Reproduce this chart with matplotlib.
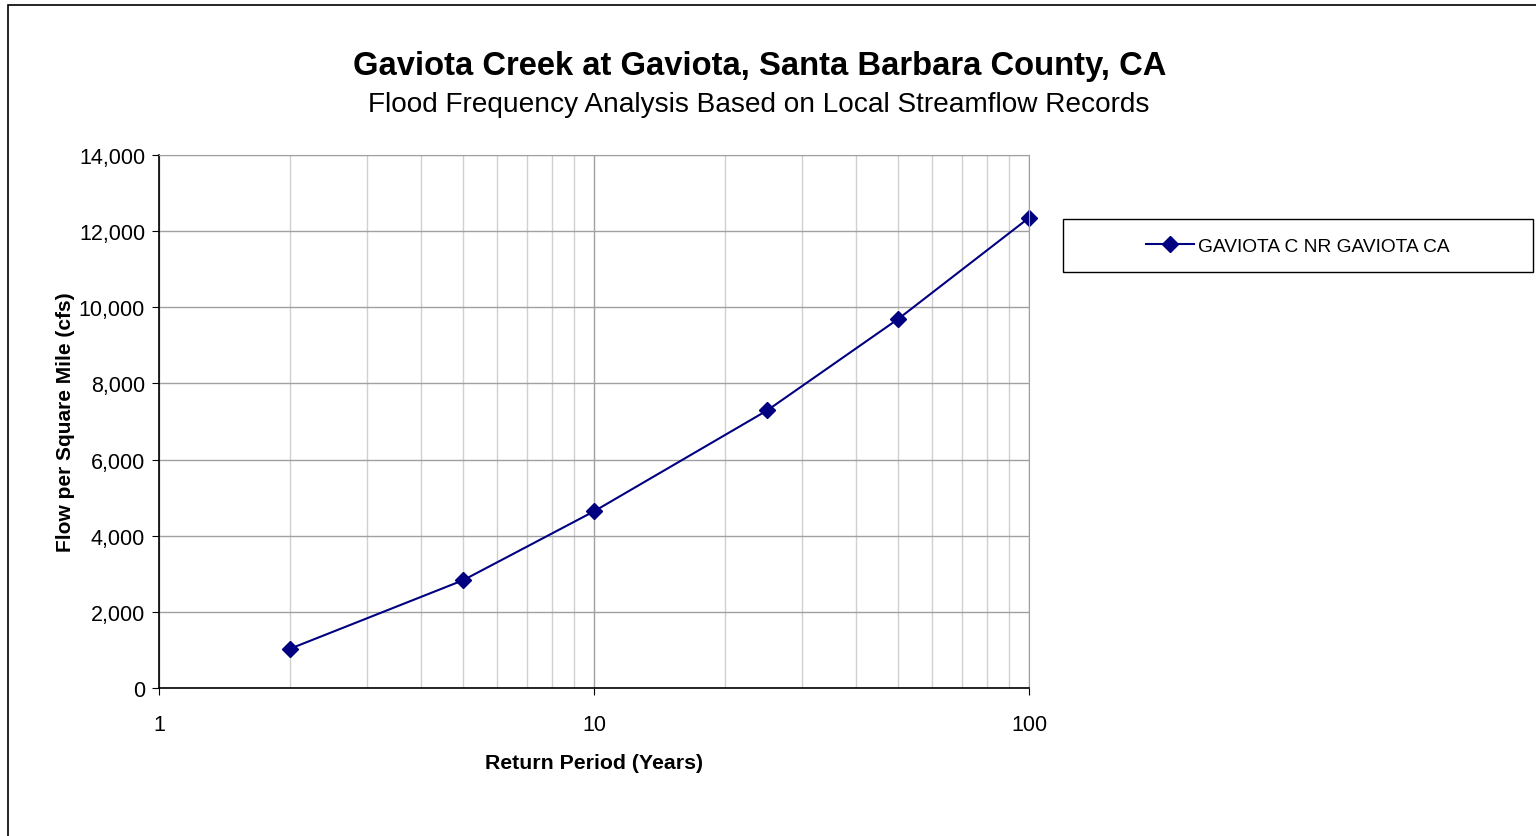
import numpy as np
import matplotlib.pyplot as plt
from matplotlib.ticker import FuncFormatter, LogLocator, NullFormatter
from matplotlib.patches import Rectangle

plt.rcParams['font.family'] = ['Liberation Sans', 'DejaVu Sans']

# Return periods (years) and flow per square mile (cfs)
return_period = [2, 5, 10, 25, 50, 100]
flow = [1030, 2830, 4640, 7290, 9690, 12350]
series_name = "GAVIOTA C NR GAVIOTA CA"

W, H = 1536, 837
fig = plt.figure(figsize=(W / 100, H / 100), dpi=100)

# outer chart frame
fig.patches.append(Rectangle((8 / W, -0.1), 1.2, 1 - 6 / H + 0.1, transform=fig.transFigure,
                             fill=False, edgecolor='black', linewidth=1.2))

ax = fig.add_axes([159 / W, 1 - 689 / H, (1029 - 159) / W, (689 - 156) / H])
ax.set_xscale('log')
ax.set_xlim(1, 100)
ax.set_ylim(0, 14000)
ax.set_yticks(np.arange(0, 14001, 2000))
ax.yaxis.set_major_formatter(FuncFormatter(lambda v, p: f"{int(v):,}"))
ax.xaxis.set_major_locator(LogLocator(base=10, numticks=5))
ax.xaxis.set_major_formatter(FuncFormatter(lambda v, p: f"{int(v)}"))
ax.xaxis.set_minor_locator(LogLocator(base=10, subs=np.arange(2, 10), numticks=10))
ax.xaxis.set_minor_formatter(NullFormatter())

ax.grid(which='major', axis='y', color='#a0a0a0', linewidth=1)
ax.grid(which='major', axis='x', color='#a0a0a0', linewidth=1)
ax.grid(which='minor', axis='x', color='#d0d0d0', linewidth=1)
ax.set_axisbelow(True)

for s in ['top', 'right']:
    ax.spines[s].set_color('#a0a0a0')
for s in ['left', 'bottom']:
    ax.spines[s].set_color('black')
    ax.spines[s].set_linewidth(1.2)

ax.tick_params(axis='both', which='major', labelsize=15.5, length=5, direction='out', pad=5)
ax.tick_params(axis='x', which='minor', length=0)
ax.tick_params(axis='x', which='major', pad=14)

ax.plot(return_period, flow, color='#000080', linewidth=1.5, marker='D', markersize=8,
        markerfacecolor='#000080', markeredgecolor='#000080', label=series_name, clip_on=False)

ax.set_xlabel("Return Period (Years)", fontsize=15.3, fontweight='bold', labelpad=13)
ax.set_ylabel("Flow per Square Mile (cfs)", fontsize=15, fontweight='bold', labelpad=3)

fig.text(760 / W, 1 - 66 / H, "Gaviota Creek at Gaviota, Santa Barbara County, CA",
         ha='center', va='center', fontsize=23.6, fontweight='bold')
fig.text(759 / W, 1 - 105 / H, "Flood Frequency Analysis Based on Local Streamflow Records",
         ha='center', va='center', fontsize=20.2)

# legend box with centred entry
fig.patches.append(Rectangle((1063 / W, 1 - 273 / H), (1533 - 1063) / W, 53 / H,
                             transform=fig.transFigure, fill=False, edgecolor='black', linewidth=1))
leg = fig.legend(loc='center', bbox_to_anchor=(1298 / W, 1 - 247 / H), frameon=False,
                 fontsize=13.8, handlelength=2.5, handletextpad=0.2, borderaxespad=0)

fig.savefig("out.png", dpi=100)
